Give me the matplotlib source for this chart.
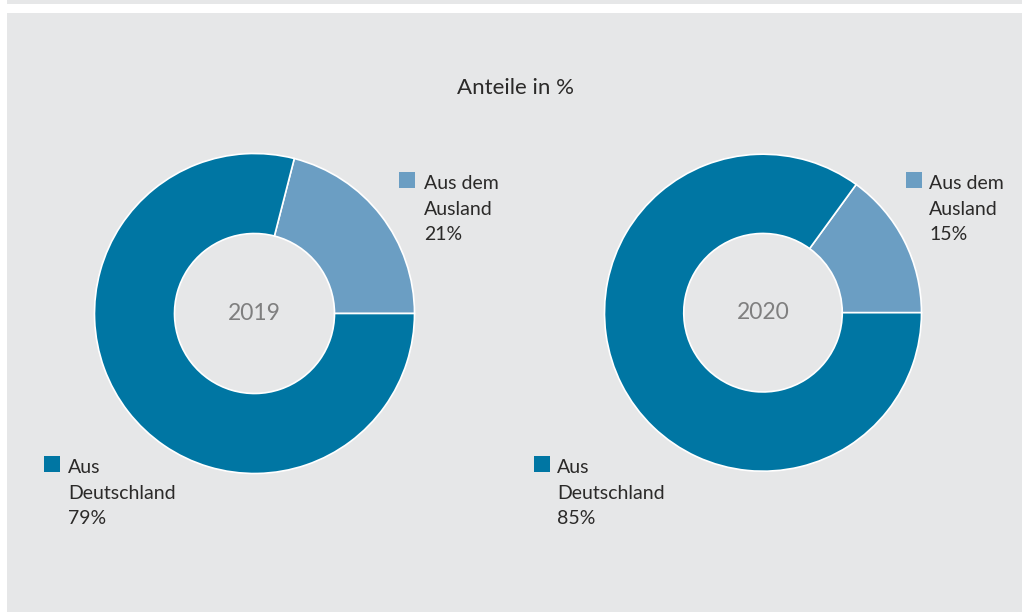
import matplotlib
matplotlib.use("Agg")
import matplotlib.pyplot as plt
from matplotlib.patches import Rectangle

# data
years = ["2019", "2020"]
categories = [["Aus dem", "Ausland"], ["Aus", "Deutschland"]]
shares = {
    "2019": [21, 79],
    "2020": [15, 85],
}
colors = ["#6b9ec3", "#0076a3"]

W, H = 1022, 612
plt.rcParams['font.family'] = ['Lato', 'DejaVu Sans']
fig = plt.figure(figsize=(W / 100, H / 100), dpi=100)
fig.patch.set_facecolor("white")

def fx(x):
    return x / W

def fy(y):
    return 1 - y / H

# background panel and top strip
fig.patches.append(Rectangle((fx(7), fy(612)), fx(1022 - 7), (612 - 12.5) / H,
                             transform=fig.transFigure, facecolor="#e6e7e8",
                             edgecolor="none", zorder=-5))
fig.patches.append(Rectangle((fx(7), fy(3.7)), fx(1022 - 7), 3.7 / H,
                             transform=fig.transFigure, facecolor="#e6e7e8",
                             edgecolor="none", zorder=-5))

text_color = "#2b2a29"
fig.text(fx(457), fy(94), "Anteile in %", ha="left", va="baseline",
         fontsize=16, color=text_color)

centers = [(254.5, 313.5), (763, 312.7)]
radii = [160, 158.5]
line_gap = 25.4
# label anchors: (square x, square top y, text x)
label_pos = [
    [(399, 172, 424), (44, 456, 68)],
    [(906, 172, 929), (534, 456, 557)],
]

for i, year in enumerate(years):
    cx, cy = centers[i]
    r = radii[i]
    ax = fig.add_axes([fx(cx - r), fy(cy + r), 2 * r / W, 2 * r / H])
    ax.pie(shares[year], colors=colors, startangle=0, counterclock=True,
           radius=1, wedgeprops=dict(width=0.5, edgecolor="white", linewidth=1.2))
    ax.set_xlim(-1, 1)
    ax.set_ylim(-1, 1)
    ax.set_aspect("equal")
    ax.axis("off")
    ax.text(0, 0, year, ha="center", va="center", fontsize=16.5, color="#7f7f7f")

    for j, cat in enumerate(categories):
        sx, sy, tx = label_pos[i][j]
        fig.patches.append(Rectangle((fx(sx), fy(sy + 16)), 16 / W, 16 / H,
                                     transform=fig.transFigure, facecolor=colors[j],
                                     edgecolor="none"))
        lines = cat + [f"{shares[year][j]}%"]
        for k, line in enumerate(lines):
            fig.text(fx(tx), fy(sy + 17.3 + k * line_gap), line, ha="left",
                     va="baseline", fontsize=14, color=text_color)

fig.savefig("out.png", dpi=100, facecolor=fig.get_facecolor())
